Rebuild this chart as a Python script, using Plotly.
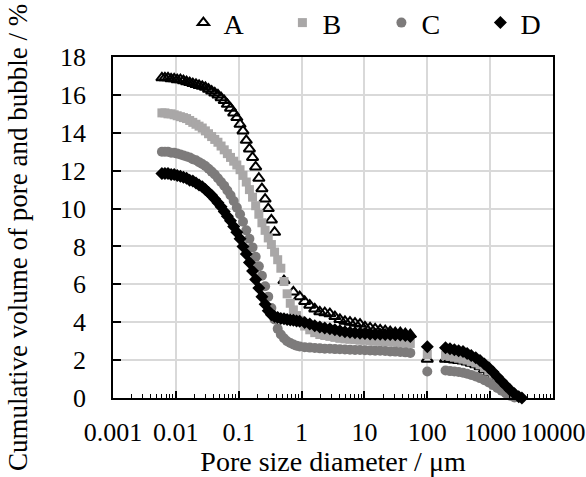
import plotly.graph_objects as go

# pore diameter (um): mercury intrusion range, then the bubble range
x_pore = [0.0060, 0.0067, 0.0075, 0.0084, 0.0094, 0.0105, 0.0118, 0.0132, 0.0148, 0.0166,
          0.0186, 0.0209, 0.0234, 0.0263, 0.0295, 0.0331, 0.0371, 0.0416, 0.0467, 0.0524,
          0.0588, 0.0660, 0.0741, 0.0832, 0.0933, 0.105, 0.117, 0.132, 0.148, 0.166,
          0.186, 0.209, 0.234, 0.263, 0.295, 0.331, 0.372, 0.417, 0.468, 0.525,
          0.589, 0.661, 0.741, 0.832, 0.933, 1.12, 1.35, 1.62, 1.95, 2.34,
          2.82, 3.39, 4.07, 4.90, 5.89, 7.08, 8.51, 10.2, 12.3, 14.8,
          17.8, 21.4, 25.7, 30.9, 37.2, 44.7, 53.7]
x_bubble = [100, 195, 230, 270, 315, 370, 430, 500, 590, 690,
            810, 950, 1110, 1300, 1520, 1780, 2080, 2440, 2850, 3200]

# cumulative volume (%)
a_pore = [16.9, 16.9, 16.9, 16.85, 16.85, 16.8, 16.8, 16.75, 16.7, 16.65,
          16.6, 16.55, 16.5, 16.45, 16.4, 16.3, 16.2, 16.1, 16.0, 15.85,
          15.7, 15.5, 15.3, 15.05, 14.8, 14.45, 14.1, 13.6, 13.15, 12.7,
          12.2, 11.6, 11.05, 10.5, 10.0, 9.4, 8.75, None, None, 6.2,
          None, None, 5.6, None, 5.35, 5.1, 4.9, 4.7, 4.55, 4.5,
          4.45, 4.3, 4.15, 4.05, 4.0, 3.95, 3.9, 3.75, 3.7, 3.65,
          3.6, 3.55, 3.5, 3.45, 3.45, 3.4, 3.35]
a_bubble = [2.05, 2.05, 2.05, 2.0, 1.98, 1.95, 1.9, 1.83, 1.75, 1.65,
            1.5, 1.33, 1.13, 0.9, 0.68, 0.47, 0.27, 0.1, 0.0, None]

b_pore = [15.05, 15.05, 15.0, 15.0, 14.95, 14.9, 14.85, 14.8, 14.75, 14.65,
          14.55, 14.45, 14.35, 14.25, 14.1, 13.95, 13.8, 13.65, 13.5, 13.3,
          13.1, 12.9, 12.7, 12.5, 12.3, 12.05, 11.75, 11.4, 11.0, 10.6,
          10.15, 9.7, 9.25, 8.85, 8.45, 8.1, 7.7, 7.3, 6.85, 6.15,
          5.5, 5.0, 4.65, 4.35, 4.1, 3.8, 3.6, 3.45, 3.35, 3.3,
          3.25, 3.2, 3.15, 3.12, 3.1, 3.08, 3.05, 3.05, 3.02, 3.0,
          3.0, 2.98, 2.96, 2.95, 2.93, 2.9, 2.88]
b_bubble = [2.3, 2.25, 2.2, 2.15, 2.1, 2.05, 2.0, 1.93, 1.85, 1.75,
            1.6, 1.43, 1.22, 1.0, 0.77, 0.55, 0.33, 0.15, 0.03, None]

c_pore = [13.0, 13.0, 13.0, 12.95, 12.95, 12.9, 12.85, 12.8, 12.75, 12.7,
          12.6, 12.55, 12.45, 12.35, 12.25, 12.1, 11.95, 11.8, 11.6, 11.4,
          11.2, 10.95, 10.7, 10.4, 10.05, 9.7, 9.3, 8.85, 8.4, 7.95,
          7.45, 6.95, 6.45, 5.9, 5.35, 4.75, 4.15, 3.65, 3.35, 3.15,
          3.0, 2.9, 2.82, 2.76, 2.72, 2.68, 2.66, 2.64, 2.62, 2.6,
          2.6, 2.58, 2.57, 2.56, 2.55, 2.54, 2.53, 2.52, 2.51, 2.5,
          2.49, 2.48, 2.46, 2.45, 2.43, 2.41, 2.38]
c_bubble = [1.4, 1.45, 1.42, 1.4, 1.37, 1.33, 1.28, 1.22, 1.14, 1.05,
            0.94, 0.82, 0.68, 0.53, 0.38, 0.24, 0.12, 0.03, None, None]

d_pore = [11.85, 11.85, 11.85, 11.8, 11.8, 11.75, 11.7, 11.65, 11.6, 11.5,
          11.45, 11.35, 11.25, 11.15, 11.0, 10.85, 10.7, 10.5, 10.3, 10.1,
          9.85, 9.6, 9.35, 9.05, 8.75, 8.4, 8.0, 7.6, 7.15, 6.7,
          6.25, 5.8, 5.35, 4.95, 4.6, 4.4, 4.3, 4.25, 4.2, 4.18,
          4.15, 4.12, 4.1, 4.07, 4.05, 3.98, 3.9, 3.82, 3.75, 3.7,
          3.65, 3.6, 3.55, 3.5, 3.47, 3.44, 3.42, 3.4, 3.38, 3.37,
          3.36, 3.35, 3.35, 3.34, 3.33, 3.3, 3.25]
d_bubble = [2.7, 2.65, 2.6, 2.55, 2.5, 2.45, 2.35, 2.25, 2.12, 1.98,
            1.8, 1.6, 1.37, 1.12, 0.88, 0.65, 0.42, 0.22, 0.06, 0.0]

x_tickvals = [0.001, 0.01, 0.1, 1, 10, 100, 1000, 10000]
x_ticktext = ["0.001", "0.01", "0.1", "1", "10", "100", "1000", "10000"]

FONT = "Liberation Serif"

series = [
    ("A", a_pore + a_bubble, dict(symbol="triangle-up-open", size=10, color="black",
                                  line=dict(width=2, color="black"))),
    ("B", b_pore + b_bubble, dict(symbol="square", size=9, color="#a9a7a7")),
    ("C", c_pore + c_bubble, dict(symbol="circle", size=10, color="#7d7b7b")),
    ("D", d_pore + d_bubble, dict(symbol="diamond", size=10, color="black")),
]

fig = go.Figure()
for name, y, marker in series:
    fig.add_trace(go.Scatter(
        x=x_pore + x_bubble, y=y, name=name, mode="markers",
        marker=marker, cliponaxis=False,
    ))

minor_vals = [m * 10 ** e for e in range(-3, 4) for m in range(2, 10)]

fig.update_xaxes(
    type="log", range=[-3, 4], automargin=False,
    tickvals=x_tickvals, ticktext=x_ticktext,
    ticks="inside", ticklen=7, tickcolor="black", tickwidth=1.5,
    minor=dict(tickvals=minor_vals, ticks="inside", ticklen=4, tickcolor="black",
               tickwidth=1.2, showgrid=False),
    showgrid=True, gridcolor="#d9d9d9", gridwidth=1.5,
    showline=True, linecolor="black", linewidth=1.8, mirror=True,
    tickfont=dict(family=FONT, size=26, color="black"),
    ticklabelstandoff=10,
    title=dict(text="Pore size diameter / \u03bcm", standoff=6,
               font=dict(family=FONT, size=28, color="black")),
)
fig.update_yaxes(
    range=[0, 18], dtick=2, automargin=False,
    ticks="inside", ticklen=8, tickcolor="black", tickwidth=1.5,
    showgrid=True, gridcolor="#d9d9d9", gridwidth=1.5,
    showline=True, linecolor="black", linewidth=1.8, mirror=True,
    tickfont=dict(family=FONT, size=26, color="black"),
    ticklabelstandoff=20,
)

# y title as an annotation so it can sit a little below the plot's mid-height
fig.add_annotation(
    text="Cumulative volume of pore and bubble / %", textangle=-90,
    xref="paper", yref="paper", x=-0.216, y=0.472,
    xanchor="center", yanchor="middle", showarrow=False,
    font=dict(family=FONT, size=27, color="black"),
)

fig.update_layout(
    width=586, height=477,
    margin=dict(l=113, r=33, t=57, b=79, autoexpand=False),
    paper_bgcolor="white", plot_bgcolor="white",
    font=dict(family=FONT, color="black"),
    showlegend=True,
    legend=dict(orientation="h", x=0.16, y=1.1, xanchor="left", yanchor="middle",
                entrywidth=54, entrywidthmode="pixels",
                font=dict(family=FONT, size=28, color="black"),
                bgcolor="rgba(0,0,0,0)"),
)

# drop the page's default 8px body margin so the figure sits at the window corner
fig.write_html("out.html", config={"displayModeBar": False},
               post_script="document.body.style.margin='0px';")
